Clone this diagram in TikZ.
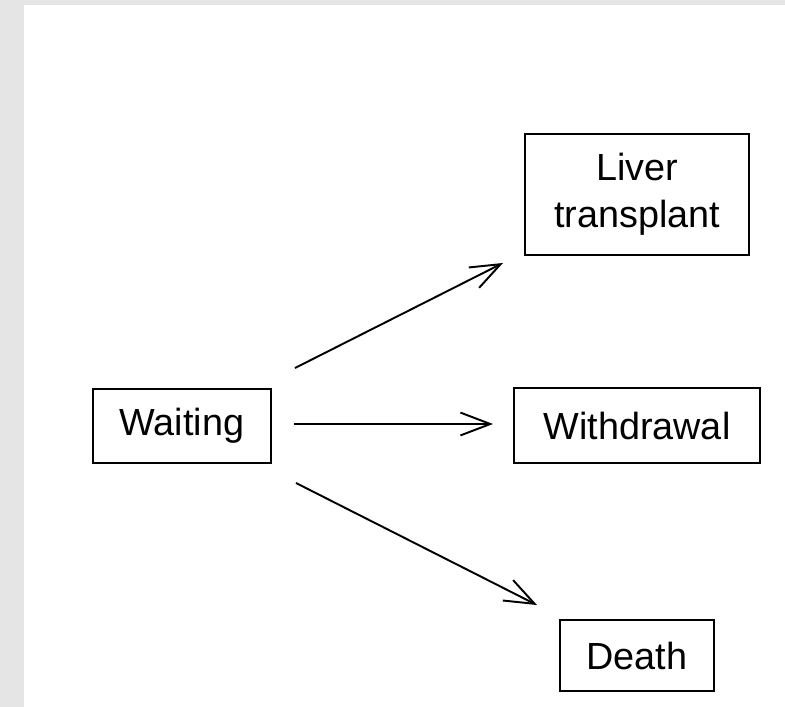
\documentclass[tikz,border=0pt]{standalone}
\usepackage{fontspec}
\setmainfont{Liberation Sans}
\usetikzlibrary{arrows.meta,calc}

\begin{document}
\begin{tikzpicture}[x=0.02cm, y=-0.02cm,
    state/.style={draw, line width=1.1pt, inner sep=0pt, align=center,
      font=\fontsize{21.5}{26.6}\selectfont},
    flow/.style={line width=1.1pt, -{Straight Barb[length=17pt, width=13pt, line width=1.1pt]}}]

        \useasboundingbox (0,0) rectangle (785,707);
        \fill[gray!20] (0,0) rectangle (785,707);
        \fill[white] (24,5) rectangle (785,707);

        \node[state, minimum width=178*0.02cm, minimum height=74*0.02cm] (wait) at (182,426) {Waiting};

        \node[state, minimum width=224*0.02cm, minimum height=121*0.02cm] (liver) at (637,194.5) {Liver\\transplant};

        \node[state, minimum width=246*0.02cm, minimum height=75*0.02cm] (withdraw) at (637,425.5) {Withdrawal};

        \node[state, minimum width=154*0.02cm, minimum height=71*0.02cm] (death) at (637,655.5) {Death};

        \draw[flow] ($(wait.north east)+(23,-20)$) -- ($(liver.south west)+(-21,7)$);

        \draw[flow] ($(wait.east)+(22,-2)$) -- ($(withdraw.west)+(-20,-1.5)$);

        \draw[flow] ($(wait.south east)+(24,19)$) -- ($(death.north west)+(-22,-14)$);

      \end{tikzpicture}
\end{document}
